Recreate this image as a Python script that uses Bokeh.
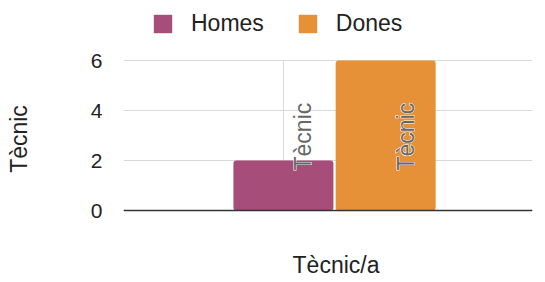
import math
from bokeh.plotting import figure
from bokeh.models import Range1d, FactorRange, ColumnDataSource, Legend, LegendItem, Span
from bokeh.transform import dodge
from bokeh.core.properties import value
from bokeh.embed import file_html
from bokeh.resources import INLINE

category = ["Tècnic/a"]
series = ["Homes", "Dones"]
values = [2, 6]
colors = ["#a64d79", "#e69138"]
bar_labels = ["Tècnic", "Tècnic"]
y_ticks = [0, 2, 4, 6]
y_title = "Tècnic"

FONT = "Liberation Sans"
offsets = [-0.109, 0.141]
bar_w = 0.2445
label_y = 1.6
y_lo, y_hi = -2.68, 8.4

# the frame covers the whole height so that legend and category title can be drawn in it
p = figure(frame_width=409, frame_height=277,
           x_range=FactorRange(factors=category, range_padding=0),
           y_range=Range1d(y_lo, y_hi),
           output_backend="svg", toolbar_location=None,
           min_border_left=123, min_border_right=8,
           min_border_top=0, min_border_bottom=4)
p.outline_line_color = None
p.xgrid.grid_line_color = None
p.ygrid.grid_line_color = "#d9d9d9"
p.ygrid.ticker = y_ticks
p.xaxis.visible = False

# vertical light line behind first series
vsrc = ColumnDataSource(dict(cat=category, y0=[y_ticks[0]], y1=[y_ticks[-1]]))
p.segment(x0=dodge('cat', offsets[0], range=p.x_range), x1=dodge('cat', offsets[0], range=p.x_range),
          y0='y0', y1='y1', source=vsrc, line_color="#d9d9d9", line_width=1)

items = []
for i, s in enumerate(series):
    src = ColumnDataSource(dict(cat=category, top=[values[i]], label=[bar_labels[i]], ly=[label_y]))
    r = p.vbar(x=dodge('cat', offsets[i], range=p.x_range), top='top', width=bar_w, source=src,
               fill_color=colors[i], line_color=None, border_radius=3)
    items.append(LegendItem(label=s, renderers=[r]))
    for layer in range(2):
        p.text(x=dodge('cat', offsets[i], range=p.x_range), y='ly', text='label', source=src,
               angle=math.pi / 2, x_offset=20, text_align="left", text_baseline="middle",
               text_font=value(FONT), text_font_size="23px",
               text_color="white" if layer == 0 else "#666666",
               text_outline_color="white" if layer == 0 else None)

# zero baseline
p.add_layout(Span(location=y_ticks[0], dimension="width", line_color="#333333", line_width=1.5))

# category (x axis) title, at the bottom of the figure
tsrc = ColumnDataSource(dict(cat=category, ty=[y_lo]))
p.text(x='cat', y='ty', text='cat', source=tsrc, x_offset=8, text_align="center",
       text_baseline="bottom", text_font=value(FONT), text_font_size="23px", text_color="#222222")

legend = Legend(items=items, orientation="horizontal", location=(28, 240),
                glyph_width=23, glyph_height=23, label_standoff=17, spacing=32,
                padding=0, margin=0, border_line_color=None, background_fill_alpha=0,
                label_text_font=FONT, label_text_font_size="23px", label_text_color="#222222")
p.add_layout(legend, "center")

ya = p.yaxis[0]
ya.ticker = y_ticks
ya.axis_line_color = None
ya.major_tick_line_color = None
ya.minor_tick_line_color = None
ya.major_label_standoff = 15
ya.major_label_text_font = FONT
ya.major_label_text_font_size = "21px"
ya.major_label_text_color = "#222222"
ya.axis_label = y_title
ya.axis_label_text_font = FONT
ya.axis_label_text_font_size = "23px"
ya.axis_label_text_font_style = "normal"
ya.axis_label_text_color = "#222222"
ya.axis_label_standoff = 56

open("out.html", "w").write(file_html(p, INLINE))
